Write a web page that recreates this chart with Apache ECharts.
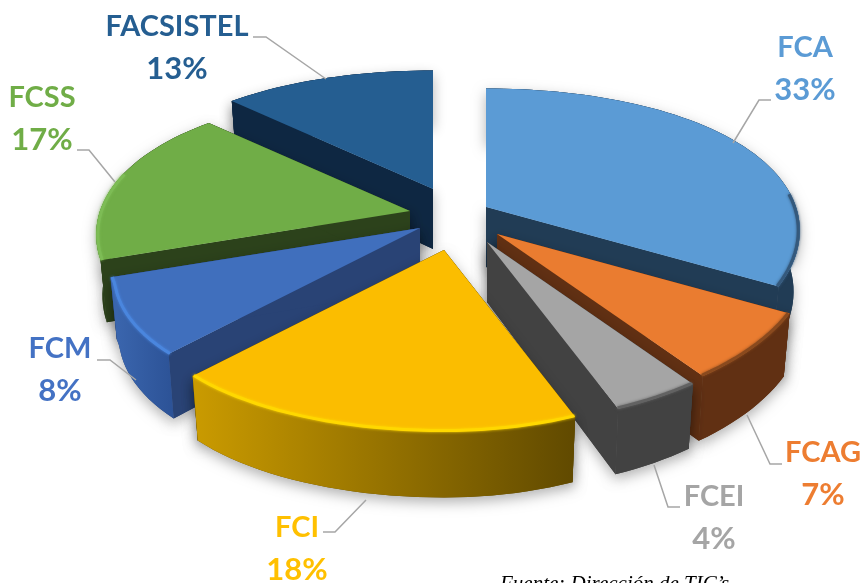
<!DOCTYPE html>
<html>
<head>
<meta charset="utf-8">
<style>html,body{margin:0;padding:0;background:#fff;overflow:hidden}#c{width:865px;height:583px}</style>
<script src="https://cdn.jsdelivr.net/npm/echarts@6/dist/echarts.min.js"></script>
</head>
<body>
<div id="c"></div>
<script>
// DATA
const categories = ['FCA','FCAG','FCEI','FCI','FCM','FCSS','FACSISTEL'];
const shares = [33,7,4,18,8,17,13];
// STYLE / LAYOUT
const topColors  = ['#5b9bd5','#ea7c30','#a5a5a5','#fbbd00','#406fbd','#70ad47','#255e91'];
const textColors = ['#5b9bd5','#ed7d31','#a5a5a5','#ffc000','#4472c4','#70ad47','#255e91'];
const wallColors = ['#213c55','#613013','#424242','#c99a00','#3a65ad','#2c421b','#0e2742'];
const wallEnd    = ['#213c55','#613013','#424242','#614a00','#2c5296','#2c421b','#0e2742'];
const sideColors = ['#213c55','#613013','#424242','#614a00','#294375','#2c421b','#0e2742'];
const rimColors  = ['#35597c','#8a4a1e','#626262','#ffd800','#4a86de','#7dbc55','#255e91'];
const rimFrom    = [85,118.8,144,158.4,223.2,252,340];
const rimTo      = [118.8,144,158.4,223.2,252,285,340];
const explode = [[39,-15],[50,12],[40,20],[-3,28],[-27,6],[-37,-11],[-14,-33]];
const drawOrder = [6,5,4,0,1,2,3];
const center = [447,222];
const wallH = 60;
const labelAt = [[805,48,90],[823,453,495],[714,497,539],[297,528,570],[60,349,391],[42,98,140],[177,27,69]];
const leaders = [
  [[771,100],[759,100],[733,143]],
  [[782,464],[770,464],[747,415]],
  [[680,507],[668,507],[654,465]],
  [[323,532],[335,532],[366,500]],
  [[97,360],[110,360],[136,380]],
  [[77,150],[89,150],[115,182]],
  [[253,37],[266,37],[326,79]]
];
const total = shares.reduce((a,b)=>a+b,0);
const startDeg = []; let acc = 0;
shares.forEach(v=>{startDeg.push(acc); acc += v/total*360;});

function proj(deg){
  const t = deg*Math.PI/180, s = Math.sin(t), c = Math.cos(t);
  const skew = s<0 ? 1+0.16*Math.max(0,-c-0.35) : 1;
  return [310*s*(1-0.16*c)*skew, -150*c*(1-0.21*c), c];
}
function arc(i,a,b,bottom){
  const pts = [], ax = center[0]+explode[i][0], ay = center[1]+explode[i][1];
  const n = Math.max(2,Math.ceil((b-a)/2));
  for(let k=0;k<=n;k++){
    const p = proj(a+(b-a)*k/n);
    pts.push(bottom ? [ax+p[0]*0.98, ay+p[1]+wallH*(1-0.1*p[2])] : [ax+p[0], ay+p[1]]);
  }
  return pts;
}
function renderItem(params){
  const i = drawOrder[params.dataIndex];
  const a = startDeg[i], b = a + shares[i]/total*360;
  const ax = center[0]+explode[i][0], ay = center[1]+explode[i][1];
  const apexTop = [ax,ay], apexBot = [ax,ay+wallH];
  const top = arc(i,a,b,false), bot = arc(i,a,b,true);
  const shadow = {shadowColor:'rgba(0,0,0,0.3)',shadowBlur:13,shadowOffsetY:5};
  const kids = [];
  const sideA = [apexTop,top[0],bot[0],apexBot];
  const sideB = [apexTop,top[top.length-1],bot[bot.length-1],apexBot];
  const outer = top.concat(bot.slice().reverse());
  [sideA,sideB,outer].forEach(pts=>kids.push({type:'polygon',shape:{points:pts},style:Object.assign({fill:sideColors[i]},shadow)}));
  kids.push({type:'polygon',shape:{points:sideA},style:{fill:sideColors[i]}});
  kids.push({type:'polygon',shape:{points:sideB},style:{fill:sideColors[i]}});
  const xs = bot.map(p=>p[0]);
  const fill = new echarts.graphic.LinearGradient(Math.min(...xs),0,Math.max(...xs),0,
    [{offset:0,color:wallColors[i]},{offset:1,color:wallEnd[i]}],true);
  kids.push({type:'polygon',shape:{points:outer},style:{fill:fill}});
  kids.push({type:'polygon',shape:{points:[apexTop].concat(top)},style:{fill:topColors[i]}});
  if(rimTo[i]>rimFrom[i]){
    const rim = arc(i,rimFrom[i],rimTo[i],false).map(p=>[ax+(p[0]-ax)*0.995, ay+(p[1]-ay)*0.995]);
    kids.push({type:'polyline',shape:{points:rim},style:{fill:'none',stroke:rimColors[i],lineWidth:3,shadowColor:rimColors[i],shadowBlur:3}});
  }
  kids.push({type:'polyline',shape:{points:leaders[i]},style:{fill:'none',stroke:'#a6a6a6',lineWidth:1.5}});
  kids.push({type:'text',style:{text:categories[i],x:labelAt[i][0],y:labelAt[i][1],align:'center',verticalAlign:'middle',font:'bold 29px Lato',fill:textColors[i]}});
  kids.push({type:'text',style:{text:shares[i]+'%',x:labelAt[i][0],y:labelAt[i][2],align:'center',verticalAlign:'middle',font:'bold 31px Lato',fill:textColors[i]}});
  return {type:'group',children:kids};
}
const chart = echarts.init(document.getElementById('c'),null,{renderer:'canvas'});
chart.setOption({
  animation:false,
  backgroundColor:'#ffffff',
  graphic:[{type:'text',left:500,top:574,style:{text:'Fuente: Dirección de TIC’s',font:'italic 21px "Liberation Serif"',fill:'#000'}}],
  series:[{
    type:'custom',
    coordinateSystem:'none',
    silent:true,
    renderItem:renderItem,
    data:drawOrder.map(i=>({name:categories[i],value:shares[i]}))
  }]
});
</script>
</body>
</html>
